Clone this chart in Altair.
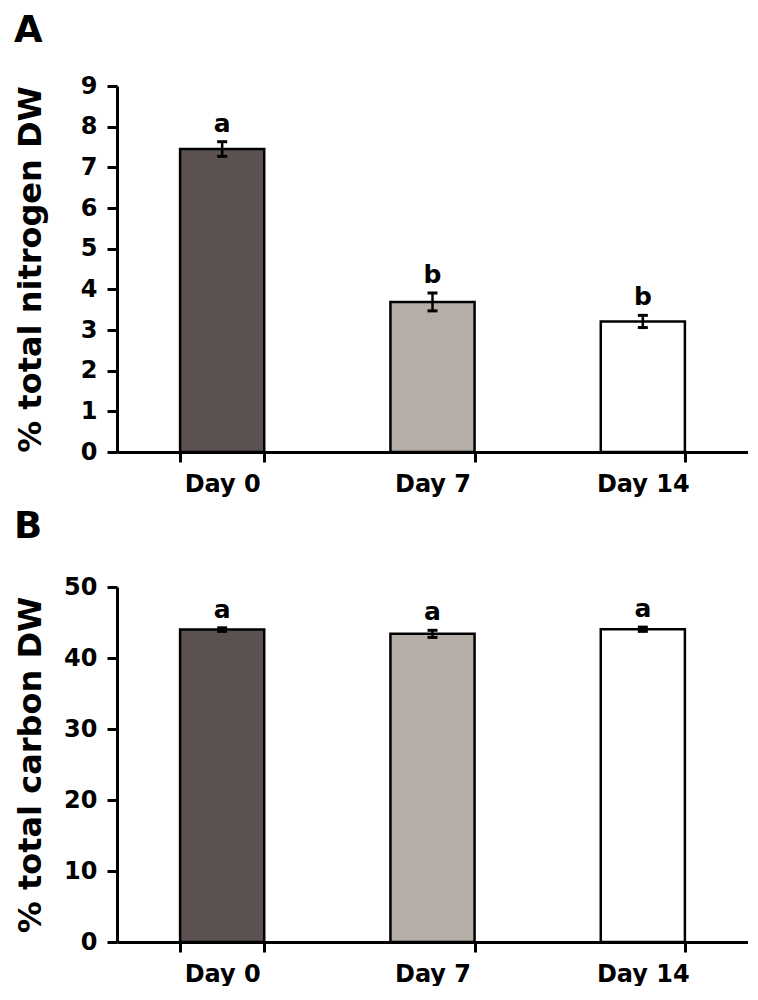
import altair as alt
import pandas as pd

days = ["Day 0", "Day 7", "Day 14"]
bar_colors = ["#5a5150", "#b4aea6", "#ffffff"]

nitrogen_mean = [7.45, 3.69, 3.21]
nitrogen_err = [0.18, 0.22, 0.15]
nitrogen_letters = ["a", "b", "b"]
nitrogen_ticks = [0, 1, 2, 3, 4, 5, 6, 7, 8, 9]

carbon_mean = [44.0, 43.4, 44.05]
carbon_err = [0.25, 0.5, 0.3]
carbon_letters = ["a", "a", "a"]
carbon_ticks = [0, 10, 20, 30, 40, 50]

FONT = "DejaVu Sans"


def panel(mean, err, letters, ticks, ymax, ytitle, letter, height, title_offset):
    df = pd.DataFrame({
        "day": days,
        "mean": mean,
        "lo": [m - e for m, e in zip(mean, err)],
        "hi": [m + e for m, e in zip(mean, err)],
        "letter": letters,
    })
    base = alt.Chart(df)
    x = alt.X(
        "day:N", sort=days,
        scale=alt.Scale(paddingInner=0.6, paddingOuter=0.3),
        axis=alt.Axis(title=None, labelAngle=0, labelFontSize=24, labelPadding=10,
                      labelFont=FONT, labelFontWeight="bold", labelColor="black",
                      tickBand="extent", tickSize=10, tickWidth=3, tickColor="black",
                      domainWidth=3, domainColor="black", grid=False),
    )
    y = alt.Y(
        "mean:Q",
        scale=alt.Scale(domain=[0, ymax], nice=False, zero=True),
        axis=alt.Axis(values=ticks, title=ytitle, grid=False,
                      labelFontSize=24, labelFont=FONT, labelFontWeight="bold",
                      labelColor="black", labelPadding=10,
                      tickSize=10, tickWidth=3, tickColor="black",
                      domainWidth=3, domainColor="black",
                      titleFont=FONT, titleFontSize=32, titleFontWeight="bold",
                      titleColor="black", titleX=-70),
    )
    bars = base.mark_bar(stroke="black", strokeWidth=2.5).encode(
        x=x, y=y,
        fill=alt.Fill("day:N", scale=alt.Scale(domain=days, range=bar_colors), legend=None),
    )
    xs = alt.X("day:N", sort=days)
    rule = base.mark_rule(strokeWidth=2.5, color="black").encode(
        x=xs, y="lo:Q", y2="hi:Q")
    cap_hi = base.mark_tick(orient="horizontal", size=10, thickness=3,
                            color="black", opacity=1).encode(x=xs, y="hi:Q")
    cap_lo = base.mark_tick(orient="horizontal", size=10, thickness=3,
                            color="black", opacity=1).encode(x=xs, y="lo:Q")
    text = base.mark_text(baseline="alphabetic", dy=-10, fontSize=25,
                          fontWeight="bold", font=FONT, color="black").encode(
        x=xs, y="hi:Q", text="letter:N")
    return alt.layer(bars, rule, cap_hi, cap_lo, text).properties(
        width=631, height=height,
        title=alt.TitleParams(letter, anchor="start", frame="bounds", fontSize=37,
                              font=FONT, fontWeight="bold", color="black",
                              offset=title_offset),
    )


panel_a = panel(nitrogen_mean, nitrogen_err, nitrogen_letters, nitrogen_ticks, 9,
                "% total nitrogen DW", "A", 366, 24)
panel_b = panel(carbon_mean, carbon_err, carbon_letters, carbon_ticks, 50,
                "% total carbon DW", "B", 355, 29)

chart = alt.vconcat(panel_a, panel_b, spacing=12).properties(
    padding={"top": 4, "left": 5, "right": 0, "bottom": 0},
    background="white",
).configure_view(strokeWidth=0)

chart.save("out.html", embed_options={"renderer": "svg", "actions": False})
